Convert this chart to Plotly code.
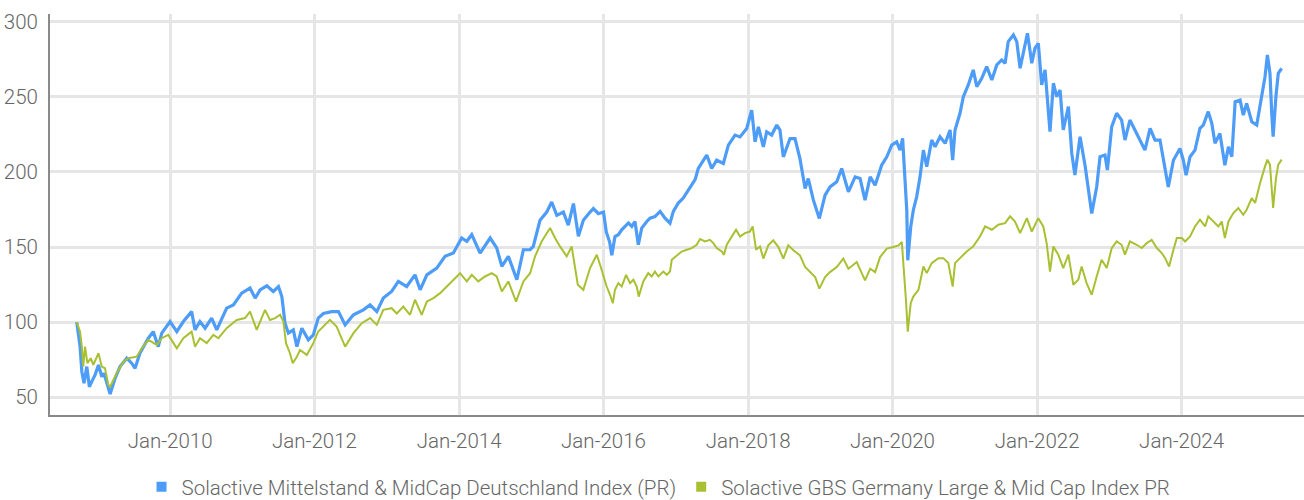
import plotly.graph_objects as go

# ---- data ----
mid_dates = [
 "2008-09-16","2008-10-03","2008-10-12","2008-10-23","2008-11-06","2008-11-19","2008-12-01","2008-12-18",
 "2009-01-04","2009-01-21","2009-02-01","2009-02-15","2009-03-04","2009-03-29","2009-04-23","2009-05-27",
 "2009-06-21","2009-07-08","2009-08-02","2009-09-13","2009-10-08","2009-11-02","2009-11-20","2010-01-01",
 "2010-02-04","2010-03-09","2010-04-20","2010-05-07","2010-06-01","2010-06-27","2010-07-30","2010-08-25",
 "2010-10-14","2010-11-17","2010-12-29","2011-02-09","2011-03-07","2011-04-01","2011-05-05","2011-06-07",
 "2011-07-03","2011-07-20","2011-08-05","2011-08-22","2011-09-16","2011-10-04","2011-10-29","2011-12-01",
 "2011-12-26","2012-01-20","2012-02-15","2012-03-28","2012-05-01","2012-06-04","2012-07-16","2012-09-04",
 "2012-10-08","2012-11-11","2012-12-14","2013-01-25","2013-02-28","2013-04-11","2013-05-23","2013-06-18",
 "2013-07-22","2013-09-10","2013-10-22","2013-12-03","2014-01-14","2014-02-09","2014-03-06","2014-04-17",
 "2014-06-07","2014-07-10","2014-08-05","2014-09-07","2014-10-20","2014-11-22","2014-12-26","2015-01-11",
 "2015-02-14","2015-03-20","2015-04-14","2015-05-10","2015-06-12","2015-07-07","2015-08-02","2015-08-27",
 "2015-09-21","2015-10-25","2015-11-11","2015-12-06",
 "2016-01-01","2016-01-15","2016-02-01","2016-02-12","2016-02-28","2016-03-16","2016-04-02","2016-04-19",
 "2016-05-06","2016-05-23","2016-06-08","2016-06-25","2016-07-12","2016-08-07","2016-08-23","2016-09-17",
 "2016-10-13","2016-11-07","2016-12-02","2016-12-19","2017-01-13","2017-02-07","2017-03-05","2017-04-08",
 "2017-04-24","2017-06-06","2017-07-01",
 "2017-07-26","2017-08-29","2017-09-23","2017-10-27","2017-11-21","2017-12-25","2018-01-19","2018-02-05",
 "2018-02-22","2018-03-19","2018-04-05","2018-04-30","2018-05-26","2018-06-11","2018-06-28","2018-08-01",
 "2018-08-26","2018-09-20","2018-10-16","2018-11-01","2018-11-27","2018-12-27","2019-01-25","2019-02-19",
 "2019-03-25","2019-04-19","2019-05-23","2019-06-26","2019-07-21","2019-08-15","2019-09-10","2019-10-05",
 "2019-11-07","2019-12-03","2019-12-28","2020-01-22","2020-02-08","2020-02-21","2020-03-04","2020-03-13",
 "2020-03-18","2020-04-02","2020-04-15","2020-05-02","2020-05-19","2020-06-05","2020-06-22","2020-07-17",
 "2020-08-03","2020-08-28","2020-09-23","2020-10-18","2020-10-31","2020-11-12","2020-12-07","2020-12-24",
 "2021-01-18","2021-02-12","2021-03-02","2021-03-27","2021-04-21","2021-05-17","2021-06-11","2021-07-06",
 "2021-07-23","2021-08-08","2021-09-03","2021-09-20","2021-10-07","2021-10-23","2021-11-13","2021-12-05",
 "2021-12-21","2022-01-07","2022-01-24","2022-02-10","2022-03-07","2022-03-24","2022-04-10","2022-04-27",
 "2022-05-13","2022-06-08","2022-06-25","2022-07-11","2022-08-06","2022-08-31","2022-09-17","2022-10-04",
 "2022-10-29","2022-11-15","2022-12-10","2022-12-22","2023-01-13","2023-02-07","2023-03-04","2023-03-21",
 "2023-04-15","2023-05-11","2023-06-05","2023-06-30","2023-07-26","2023-08-20","2023-09-14","2023-10-01",
 "2023-10-26","2023-11-21","2023-12-24","2024-01-10","2024-01-24","2024-02-13","2024-03-09","2024-04-03",
 "2024-04-20","2024-05-15","2024-06-02","2024-06-18","2024-07-13","2024-08-07","2024-08-25","2024-09-11",
 "2024-09-28","2024-10-23","2024-11-08","2024-11-25","2024-12-21","2025-01-15","2025-02-09","2025-02-26",
 "2025-03-10","2025-03-23","2025-04-01","2025-04-08","2025-04-22","2025-05-04","2025-05-21",
]
mid_values = [
 100.0, 83.7, 67.0, 59.3, 70.4, 57.0, 60.4, 64.9,
 71.5, 63.7, 66.0, 60.4, 52.2, 62.6, 70.4, 76.0,
 72.7, 69.3, 79.5, 89.3, 93.7, 83.7, 92.7, 100.4,
 93.7, 100.4, 107.0, 94.9, 100.4, 96.0, 102.7, 94.9,
 109.3, 111.5, 119.3, 122.7, 116.0, 121.5, 124.2, 120.4,
 123.7, 117.0, 99.3, 92.7, 94.9, 83.7, 96.0, 88.2,
 91.5, 102.7, 105.8, 107.0, 107.0, 98.2, 104.9, 108.2,
 111.5, 107.0, 116.0, 120.4, 127.1, 123.7, 131.5, 121.5,
 131.5, 136.0, 143.8, 146.0, 156.0, 153.8, 158.2, 146.0,
 156.0, 149.4, 137.2, 143.8, 128.2, 148.2, 148.2, 150.4,
 167.8, 173.3, 180.0, 171.1, 173.3, 164.5, 178.9, 157.1,
 167.8, 173.3, 175.6, 172.2,
 173.3, 160.0, 153.3, 144.5, 157.0, 158.2, 161.5, 163.7,
 166.0, 163.7, 167.0, 151.5, 162.6, 167.0, 169.2, 170.3,
 173.7, 169.2, 165.9, 173.7, 179.3, 182.6, 188.2, 194.9,
 202.3, 211.2, 202.3,
 207.8, 205.6, 217.8, 224.5, 223.3, 228.9, 241.1, 220.0,
 230.0, 216.7, 226.7, 224.5, 231.2, 227.8, 210.0, 222.2,
 222.2, 208.9, 188.9, 195.6, 181.2, 169.0, 184.5, 190.0,
 193.4, 202.3, 186.7, 196.7, 195.6, 181.2, 196.7, 191.2,
 204.5, 210.0, 217.8, 220.0, 214.5, 222.3, 196.7, 174.5,
 141.2, 163.5, 174.5, 183.4, 196.7, 214.5, 203.4, 221.2,
 216.7, 223.4, 219.0, 227.9, 207.9, 227.9, 239.0, 250.1,
 257.9, 267.9, 256.8, 262.3, 270.1, 261.2, 271.2, 274.5,
 272.3, 286.7, 291.1, 286.7, 269.0, 279.0, 292.3, 272.3,
 282.3, 285.6, 257.9, 267.9, 226.8, 259.0, 250.1, 254.5,
 227.9, 243.4, 212.3, 197.9, 223.4, 204.5, 190.0, 172.3,
 190.0, 210.1, 211.2, 201.2, 230.1, 239.0, 234.5, 221.2,
 234.5, 227.9, 221.2, 214.5, 229.0, 221.2, 221.2, 207.8,
 190.0, 207.8, 215.6, 207.8, 197.8, 210.1, 214.5, 229.0,
 231.2, 240.1, 232.3, 219.0, 225.6, 204.5, 216.7, 210.1,
 246.7, 247.8, 237.8, 245.6, 233.4, 231.2, 250.1, 263.4,
 277.8, 265.6, 239.0, 223.4, 250.1, 265.6, 268.9,
]

gbs_dates = [
 "2008-09-16","2008-10-03","2008-10-12","2008-10-19","2008-10-28","2008-11-09","2008-11-26","2008-12-09",
 "2009-01-04","2009-01-21","2009-02-06","2009-02-23","2009-03-04","2009-04-06","2009-05-10","2009-06-04",
 "2009-07-16","2009-08-11","2009-09-13","2009-10-26","2009-11-20","2009-12-23","2010-02-04","2010-03-09",
 "2010-04-20","2010-05-07","2010-06-01","2010-07-05","2010-08-08","2010-09-02","2010-10-14","2010-12-04",
 "2011-01-15","2011-02-09","2011-03-15","2011-04-01","2011-04-26","2011-05-21","2011-06-16","2011-07-11",
 "2011-07-28","2011-08-10","2011-08-30","2011-09-13","2011-10-04","2011-10-20","2011-11-23","2011-12-26",
 "2012-01-20","2012-03-19","2012-04-22","2012-06-04","2012-07-16","2012-08-27","2012-10-08","2012-11-11",
 "2012-12-14","2013-01-25","2013-02-20","2013-03-25","2013-04-28","2013-05-23","2013-06-26","2013-07-22",
 "2013-08-24","2013-09-27","2013-10-30","2013-12-03","2014-01-06","2014-02-09","2014-03-06","2014-04-08",
 "2014-05-12","2014-06-15","2014-07-10","2014-08-05","2014-09-07","2014-10-16","2014-11-22","2014-12-26",
 "2015-01-20","2015-02-23","2015-04-06","2015-05-01","2015-05-26","2015-06-29","2015-07-24","2015-08-24",
 "2015-09-21","2015-10-25","2015-11-28",
 "2015-12-15","2016-01-01","2016-01-17","2016-02-03","2016-02-17","2016-02-28","2016-03-16","2016-04-02",
 "2016-04-24","2016-05-14","2016-05-31","2016-06-17","2016-06-27","2016-07-20","2016-08-14","2016-09-01",
 "2016-09-17","2016-10-04","2016-10-29","2016-11-16","2016-12-02","2016-12-11","2017-01-05","2017-01-30",
 "2017-02-25","2017-03-22","2017-04-16","2017-05-03","2017-05-28","2017-06-22","2017-07-09","2017-07-26",
 "2017-08-21","2017-09-01","2017-09-15","2017-10-10","2017-11-01","2017-11-21","2017-12-16","2018-01-10",
 "2018-01-24","2018-02-10","2018-03-02",
 "2018-03-19","2018-04-13","2018-05-08","2018-06-03","2018-06-28","2018-07-23",
 "2018-08-18","2018-09-20","2018-10-16","2018-11-11","2018-12-06","2018-12-27","2019-01-25","2019-02-19",
 "2019-03-25","2019-04-27","2019-05-23","2019-07-04","2019-08-15","2019-09-10","2019-10-05","2019-10-30",
 "2019-12-03","2020-01-05","2020-01-31","2020-02-17","2020-02-28","2020-03-09","2020-03-18","2020-04-02",
 "2020-04-15","2020-05-11","2020-06-05","2020-06-22","2020-07-17","2020-08-20","2020-09-14","2020-10-09",
 "2020-10-31","2020-11-12","2020-12-07","2021-01-10","2021-02-12","2021-03-18","2021-04-13","2021-05-17",
 "2021-06-19","2021-07-23","2021-08-17","2021-09-11","2021-10-07","2021-11-10","2021-12-05","2022-01-07",
 "2022-02-01","2022-02-18","2022-03-07","2022-03-24","2022-04-18","2022-05-13","2022-06-08","2022-07-03",
 "2022-07-28","2022-08-14","2022-09-08","2022-10-04","2022-10-29","2022-11-23","2022-12-19","2023-01-13",
 "2023-02-07","2023-03-04","2023-03-21","2023-04-15","2023-05-19","2023-06-14","2023-07-09","2023-08-03",
 "2023-08-29","2023-09-23","2023-10-10","2023-10-30","2023-11-21","2023-12-08","2024-01-02","2024-01-19",
 "2024-02-13","2024-03-09","2024-04-03","2024-04-29","2024-05-15","2024-06-10","2024-07-05","2024-07-22",
 "2024-08-07","2024-08-25","2024-09-19","2024-10-14","2024-11-08","2024-11-25","2024-12-21","2025-01-07",
 "2025-02-01","2025-02-26","2025-03-10","2025-03-23","2025-04-01","2025-04-08","2025-04-22","2025-05-04",
 "2025-05-21",
]
gbs_values = [
 100.0, 93.7, 83.7, 70.4, 83.7, 72.7, 76.0, 71.5,
 79.3, 70.4, 69.3, 58.2, 57.0, 66.0, 73.7, 76.0,
 77.0, 82.6, 88.2, 84.9, 89.3, 91.5, 82.6, 89.3,
 93.7, 83.7, 89.3, 86.0, 91.5, 89.3, 96.0, 101.5,
 102.7, 107.0, 94.9, 100.4, 108.2, 101.5, 102.7, 104.9,
 100.4, 86.0, 79.3, 72.7, 77.0, 81.5, 78.2, 86.0,
 93.7, 101.5, 97.0, 83.7, 92.7, 99.3, 102.7, 98.2,
 108.2, 109.3, 105.8, 110.4, 104.9, 114.9, 104.9, 113.7,
 116.0, 119.3, 123.7, 128.2, 132.6, 127.1, 131.5, 127.1,
 130.4, 132.6, 130.4, 120.4, 127.1, 113.7, 127.1, 132.6,
 143.8, 153.8, 162.7, 156.0, 150.4, 143.8, 150.4, 124.9,
 121.5, 136.0, 144.9,
 138.0, 130.4, 123.7, 118.2, 112.6, 121.5, 126.0, 123.7,
 131.5, 126.0, 128.2, 123.7, 117.0, 127.1, 132.6, 130.4,
 133.7, 130.4, 133.7, 131.5, 133.7, 141.5, 144.2, 147.0,
 148.2, 149.3, 151.5, 155.3, 153.7, 154.8, 152.6, 149.3,
 147.0, 144.8, 151.5, 157.0, 161.5, 157.0, 159.3, 160.3,
 163.7, 148.2, 150.4,
 142.3, 151.1, 154.5, 150.0, 142.3, 151.1,
 147.8, 144.5, 136.7, 133.3, 130.0, 122.3, 130.0, 133.3,
 136.7, 142.3, 135.6, 140.0, 127.8, 135.6, 133.3, 143.3,
 149.0, 150.0, 151.1, 153.3, 134.5, 114.5, 93.7, 112.6,
 117.0, 121.5, 137.0, 132.6, 139.3, 142.6, 142.6, 139.3,
 123.7, 139.3, 142.6, 147.0, 150.4, 157.0, 163.7, 161.5,
 164.8, 165.9, 170.4, 167.0, 159.2, 169.2, 160.3, 169.2,
 163.7, 152.6, 133.7, 150.4, 144.9, 136.0, 144.9, 124.9,
 128.2, 137.0, 126.0, 118.2, 130.4, 141.5, 136.0, 149.3,
 153.7, 151.5, 144.9, 153.7, 151.5, 149.3, 152.6, 154.8,
 149.3, 146.0, 142.6, 137.0, 148.2, 156.0, 156.0, 153.7,
 157.0, 163.7, 168.2, 163.7, 170.4, 167.0, 163.7, 167.0,
 156.0, 167.0, 172.6, 176.0, 171.5, 174.8, 182.6, 179.3,
 192.6, 203.7, 208.2, 204.8, 190.3, 176.0, 195.5, 204.8,
 208.2,
]
assert len(mid_dates) == len(mid_values)
assert len(gbs_dates) == len(gbs_values)

series_names = [
    "Solactive Mittelstand & MidCap Deutschland Index (PR)",
    "Solactive GBS Germany Large & Mid Cap Index PR",
]
y_ticks = [50, 100, 150, 200, 250, 300]
x_ticks = ["2010-01-01", "2012-01-01", "2014-01-01", "2016-01-01",
           "2018-01-01", "2020-01-01", "2022-01-01", "2024-01-01"]
x_tick_labels = ["Jan-2010", "Jan-2012", "Jan-2014", "Jan-2016",
                 "Jan-2018", "Jan-2020", "Jan-2022", "Jan-2024"]

BLUE = "#4D9CF8"
GREEN = "#A9C033"
TEXT = "#666666"
FONT = "Roboto, sans-serif"

fig = go.Figure()
fig.add_trace(go.Scatter(x=mid_dates, y=mid_values, mode="lines",
                         line=dict(color=BLUE, width=3.2), name=series_names[0],
                         showlegend=False))
fig.add_trace(go.Scatter(x=gbs_dates, y=gbs_values, mode="lines",
                         line=dict(color=GREEN, width=2), name=series_names[1],
                         showlegend=False))
# legend entries with square keys
for nm, col in zip(series_names, [BLUE, GREEN]):
    fig.add_trace(go.Scatter(x=[None], y=[None], mode="markers", name=nm,
                             marker=dict(symbol="square", size=10, color=col)))

fig.update_layout(
    width=1304, height=500,
    margin=dict(l=50, r=0, t=14, b=85, autoexpand=False),
    paper_bgcolor="white", plot_bgcolor="white",
    font=dict(family=FONT, size=20.5, color=TEXT, weight=300),
    legend=dict(orientation="h", xref="container", x=0.505, xanchor="center",
                yref="container", y=0.026, yanchor="middle",
                font=dict(family=FONT, size=20.5, color=TEXT, weight=300),
                itemwidth=30, bgcolor="rgba(0,0,0,0)"),
    xaxis=dict(type="date", range=["2008-05-04", "2025-09-11"],
               tickvals=x_ticks, ticktext=x_tick_labels, automargin=False,
               showgrid=True, gridcolor="#e6e6e6", gridwidth=3,
               showline=True, linecolor="#8a8a8a", linewidth=2,
               ticks="", ticklabelstandoff=6, zeroline=False),
    yaxis=dict(range=[38.2, 305.1], tickvals=y_ticks, automargin=False,
               showgrid=True, gridcolor="#e6e6e6", gridwidth=3,
               showline=True, linecolor="#8a8a8a", linewidth=2,
               ticks="", ticklabelstandoff=6, zeroline=False),
)

# remove the default page margin so the 1304x500 figure fills the window exactly
fig.write_html("out.html",
               config={"displayModeBar": False},
               post_script="document.body.style.margin='0';document.body.style.padding='0';")
